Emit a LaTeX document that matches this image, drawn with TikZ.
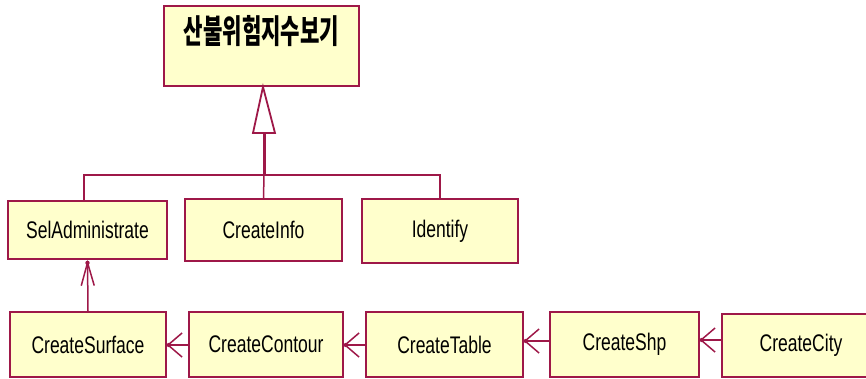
\documentclass[tikz,border=0pt]{standalone}
\usepackage{fontspec}
\setmainfont{Liberation Sans}[FakeStretch=0.73]
\newfontfamily\kor{Noto Sans CJK KR}[FakeStretch=0.64]
\usetikzlibrary{arrows.meta}
\definecolor{umlline}{RGB}{158,24,72}
\definecolor{umlfill}{RGB}{255,255,204}
\tikzset{
  cls/.style={draw=umlline, fill=umlfill, line width=1.8pt, inner sep=0pt,
    font=\fontsize{24}{28}\selectfont},
  link/.style={draw=umlline, line width=1.5pt},
  dep/.style={link, -{Straight Barb[length=14pt,width=24pt,line width=1.5pt]}},
  depv/.style={link, -{Straight Barb[length=23pt,width=13pt,line width=1.5pt]}},
  tipdot/.style={fill=umlline, draw=none},
}
\begin{document}
\begin{tikzpicture}[x=1pt,y=-1pt]
  \useasboundingbox (0,0) rectangle (866,378);
  \clip (0,0) rectangle (866,378);

  % parent class
  \node[cls, minimum width=195pt, minimum height=80pt] (title) at (261.5,46) {};
  \node[font={\kor\bfseries\fontsize{33}{36}\selectfont}, inner sep=0pt] (titletext) at (261.5,31) {산불위험지수보기};

  % subclasses
  \node[cls, minimum width=159pt, minimum height=58pt] (sel)  at (87.5,230)  {SelAdministrate};
  \node[cls, minimum width=157pt, minimum height=62pt] (info) at (263.5,230) {CreateInfo};
  \node[cls, minimum width=156pt, minimum height=64pt] (idf)  at (440,231)   {Identify};

  % creation chain
  \node[cls, minimum width=156pt, minimum height=65pt] (surf) at (88,344.5)   {CreateSurface};
  \node[cls, minimum width=154pt, minimum height=65pt] (cont) at (266,344.5)  {CreateContour};
  \node[cls, minimum width=157pt, minimum height=65pt] (tab)  at (444.5,344.5){CreateTable};
  \node[cls, minimum width=149pt, minimum height=65pt] (shp)  at (624.5,344.5){CreateShp};
  \node[cls, minimum width=158pt, minimum height=63pt] (city) at (801,345.5)  {CreateCity};

  % generalization tree
  \coordinate (bus) at (264,175);
  \coordinate (tribase) at (264,133);
  \draw[link] (sel.north -| 84,0) -- (84,175) -- (idf.north |- bus) -- (idf.north);
  \draw[link] (info.north) -- (bus);
  \draw[draw=umlline, line width=3pt] (bus) -- (tribase);
  \draw[draw=umlline, fill=white, line width=1.8pt, line join=miter]
    (title.south -| 263,0) -- (253,133) -- (275,133) -- cycle;

  % dependencies
  \draw[depv] (surf.north) -- (sel.south);
  \draw[dep] (cont.west |- 0,345) -- (surf.east |- 0,345);
  \draw[dep] (tab.west |- 0,345) -- (cont.east |- 0,345);
  \draw[dep] (shp.west |- 0,341) -- (tab.east |- 0,341);
  \draw[dep] (city.west |- 0,340) -- (shp.east |- 0,340);

  % tip dots
  \fill[tipdot] (sel.south) ++(0,3) circle (2.2pt);
  \fill[tipdot] (surf.east |- 0,345) ++(2,0) circle (2.2pt);
  \fill[tipdot] (cont.east |- 0,345) ++(2,0) circle (2.2pt);
  \fill[tipdot] (tab.east |- 0,341) ++(2,0) circle (2.2pt);
  \fill[tipdot] (shp.east |- 0,340) ++(2,0) circle (2.2pt);
\end{tikzpicture}
\end{document}
